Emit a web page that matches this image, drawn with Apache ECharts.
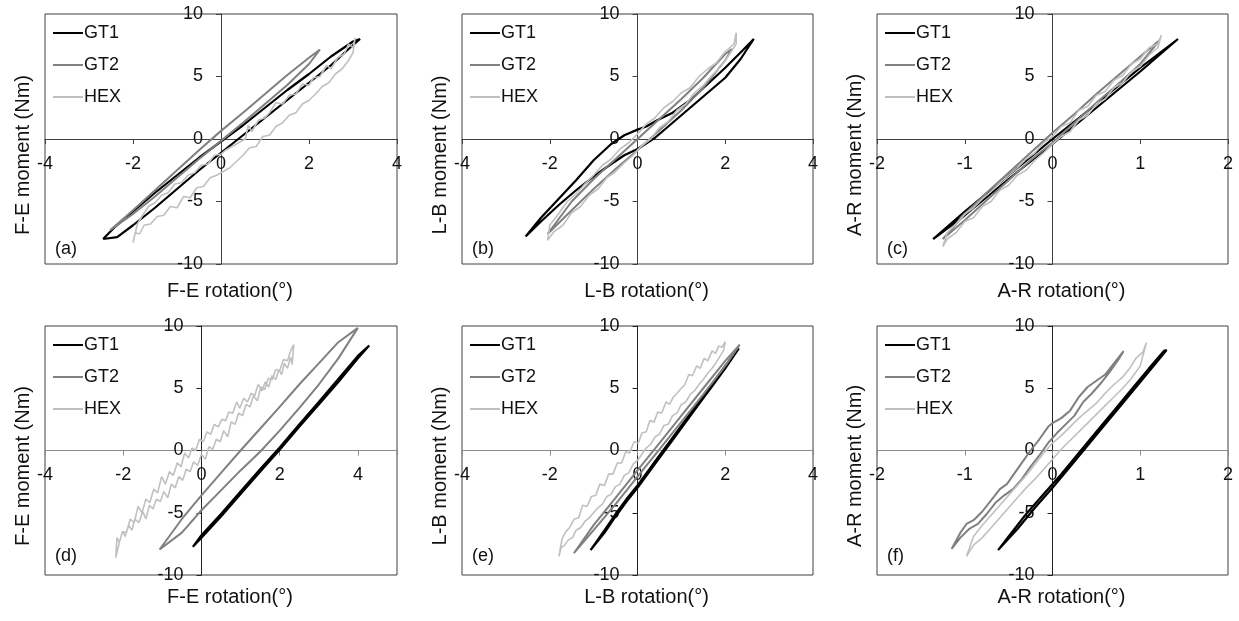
<!DOCTYPE html>
<html><head><meta charset="utf-8">
<script src="https://cdn.jsdelivr.net/npm/echarts@6/dist/echarts.min.js"></script>
<style>html,body{margin:0;padding:0;background:#fff}#c{width:1239px;height:621px}</style>
</head><body><div id="c"></div>
<script>
// ---------- DATA ----------
const seriesNames = ['GT1', 'GT2', 'HEX'];
const panelLabels = ['(a)', '(b)', '(c)', '(d)', '(e)', '(f)'];
const xTitles = ['F-E rotation(°)', 'L-B rotation(°)', 'A-R rotation(°)', 'F-E rotation(°)', 'L-B rotation(°)', 'A-R rotation(°)'];
const yTitles = ['F-E moment (Nm)', 'L-B moment (Nm)', 'A-R moment (Nm)', 'F-E moment (Nm)', 'L-B moment (Nm)', 'A-R moment (Nm)'];
const xTicksWide = [-4, -2, 0, 2, 4];
const xTicksNarrow = [-2, -1, 0, 1, 2];
const yTicks = [-10, -5, 0, 5, 10];

// (a) F-E, top row
const a_GT1 = [[-2.68,-8.0],[-2.36,-7.85],[-2.0,-6.9],[-1.5,-5.5],[-1.0,-4.0],[-0.5,-2.5],[0,-1.1],[0.5,0.3],[1.0,1.7],[1.5,3.1],[2.0,4.5],[2.5,5.9],[2.9,7.2],[3.16,8.0],
  [3.0,7.8],[2.5,6.6],[2.0,5.2],[1.5,3.9],[1.0,2.5],[0.5,1.1],[0,-0.2],[-0.5,-1.5],[-1.0,-2.9],[-1.5,-4.3],[-2.0,-5.8],[-2.4,-7.0],[-2.68,-8.0]];
const a_GT2 = [[2.25,7.16],[2.0,6.5],[1.5,5.1],[1.0,3.6],[0.5,2.1],[0,0.65],[-0.5,-0.9],[-1.0,-2.5],[-1.5,-4.1],[-2.0,-5.7],[-2.52,-7.3],
  [-2.0,-6.0],[-1.5,-4.6],[-1.0,-3.1],[-0.5,-1.6],[0,-0.15],[0.5,1.3],[1.0,2.8],[1.5,4.3],[2.0,6.0],[2.25,7.16]];
const a_HEX = [[3.05,8.1],[3.0,7.3],[2.9,7.6],[2.8,6.8],[2.65,6.5],[2.5,5.6],[2.4,5.9],[2.25,5.0],[2.1,4.9],[2.0,4.3],[1.85,4.4],[1.7,3.6],[1.55,3.5],[1.4,2.8],[1.25,2.9],[1.1,2.1],[1.0,1.7],[0.85,1.5],[0.7,0.6],[0.62,1.1],[0.55,0.0],[0.4,-0.3],[0.25,-0.6],[0.1,-0.9],[0,-1.2],[-0.15,-1.3],[-0.3,-2.0],[-0.45,-2.1],[-0.6,-2.7],[-0.75,-2.9],[-0.9,-3.5],[-1.05,-3.6],[-1.2,-4.3],[-1.35,-4.5],[-1.5,-5.1],[-1.65,-5.4],[-1.8,-6.2],[-1.9,-6.8],[-2.0,-8.3],
  [-1.95,-7.5],[-1.85,-7.6],[-1.75,-6.9],[-1.6,-6.8],[-1.45,-6.2],[-1.3,-6.1],[-1.15,-5.4],[-1.0,-5.5],[-0.85,-4.6],[-0.7,-4.7],[-0.55,-3.9],[-0.4,-3.8],[-0.25,-3.1],[-0.1,-2.9],[0.05,-2.6],[0.2,-2.3],[0.35,-1.8],[0.5,-1.3],[0.65,-0.7],[0.8,-0.6],[0.95,0.2],[1.1,0.3],[1.25,1.0],[1.4,1.3],[1.55,1.9],[1.7,2.1],[1.85,2.8],[2.0,3.1],[2.15,3.6],[2.3,4.2],[2.45,4.5],[2.6,5.2],[2.75,5.6],[2.9,6.3],[3.0,6.9],[3.05,8.1]];

// (b) L-B, top row
const b_GT1 = [[-2.55,-7.8],[-2.2,-6.6],[-1.8,-5.3],[-1.4,-4.1],[-1.0,-3.0],[-0.6,-2.0],[-0.3,-1.3],[0,-0.8],[0.4,0.1],[0.8,1.3],[1.2,2.5],[1.6,3.7],[2.0,4.9],[2.35,6.4],[2.65,8.0],
  [2.4,7.1],[2.0,5.7],[1.6,4.4],[1.2,3.1],[0.8,2.1],[0.45,1.5],[0.2,1.0],[0,0.75],[-0.3,0.3],[-0.6,-0.4],[-1.0,-1.7],[-1.4,-3.3],[-1.8,-4.8],[-2.2,-6.3],[-2.55,-7.8]];
const b_GT2 = [[-2.05,-7.6],[-1.5,-5.7],[-1.0,-4.0],[-0.5,-2.4],[0,-0.9],[0.5,0.7],[1.0,2.3],[1.5,4.1],[2.0,6.3],[2.15,7.2],
  [2.0,6.8],[1.5,4.9],[1.0,3.2],[0.5,1.6],[0,0.0],[-0.5,-1.6],[-1.0,-3.2],[-1.5,-5.0],[-2.05,-7.6]];
const b_HEX = [[2.25,8.5],[2.2,7.6],[2.0,7.0],[1.8,6.1],[1.6,5.6],[1.4,5.0],[1.2,4.1],[1.0,3.7],[0.8,3.0],[0.6,2.5],[0.4,1.7],[0.2,1.2],[0,0.4],[-0.2,-0.3],[-0.4,-0.8],[-0.6,-1.6],[-0.8,-2.1],[-1.0,-2.9],[-1.2,-3.6],[-1.4,-4.4],[-1.6,-5.0],[-1.8,-6.0],[-2.0,-6.9],[-2.05,-8.1],
  [-1.9,-7.4],[-1.7,-6.9],[-1.5,-5.9],[-1.3,-5.4],[-1.1,-4.5],[-0.9,-4.0],[-0.7,-3.1],[-0.5,-2.6],[-0.3,-1.9],[-0.1,-1.3],[0.1,-0.5],[0.3,0.0],[0.5,0.9],[0.7,1.4],[0.9,2.3],[1.1,2.8],[1.3,3.7],[1.5,4.3],[1.7,5.1],[1.9,5.8],[2.1,6.8],[2.25,7.6],[2.25,8.5]];

// (c) A-R, top row
const c_GT1 = [[1.43,8.0],[1.0,5.7],[0.5,2.8],[0,0.0],[-0.5,-2.9],[-1.0,-5.8],[-1.36,-8.0],
  [-1.0,-6.1],[-0.5,-3.2],[0,-0.4],[0.5,2.5],[1.0,5.4],[1.43,8.0]];
const c_GT2 = [[1.22,7.9],[1.0,6.6],[0.75,5.1],[0.5,3.6],[0.25,2.0],[0,0.5],[-0.25,-1.1],[-0.5,-2.7],[-0.75,-4.3],[-1.0,-6.0],[-1.25,-8.0],
  [-1.0,-6.5],[-0.75,-4.9],[-0.5,-3.3],[-0.25,-1.7],[0,-0.3],[0.25,1.3],[0.5,2.9],[0.75,4.4],[1.0,6.0],[1.22,7.9]];
const c_HEX = [[1.24,8.3],[1.2,7.6],[1.1,7.3],[1.0,6.4],[0.9,6.0],[0.8,5.1],[0.7,4.7],[0.6,3.8],[0.5,3.5],[0.4,2.6],[0.3,2.3],[0.2,1.3],[0.1,1.0],[0,0.2],[-0.1,-0.3],[-0.2,-1.1],[-0.3,-1.6],[-0.4,-2.3],[-0.5,-2.9],[-0.6,-3.5],[-0.7,-4.2],[-0.8,-4.8],[-0.9,-5.5],[-1.0,-6.0],[-1.1,-6.8],[-1.2,-7.5],[-1.25,-8.6],
  [-1.2,-8.0],[-1.1,-7.5],[-1.0,-6.6],[-0.9,-6.3],[-0.8,-5.4],[-0.7,-5.0],[-0.6,-4.1],[-0.5,-3.7],[-0.4,-2.9],[-0.3,-2.5],[-0.2,-1.7],[-0.1,-1.1],[0,-0.4],[0.1,0.2],[0.2,0.6],[0.3,1.5],[0.4,1.9],[0.5,2.8],[0.6,3.2],[0.7,4.1],[0.8,4.5],[0.9,5.4],[1.0,5.8],[1.1,6.7],[1.2,7.3],[1.24,8.3]];

// (d) F-E, bottom row
const d_GT1 = [[-0.22,-7.74],[0.0,-7.0],[0.5,-5.3],[1.0,-3.5],[1.5,-1.7],[2.0,0.05],[2.5,1.9],[3.0,3.7],[3.5,5.5],[4.0,7.4],[4.29,8.43],
  [4.0,7.6],[3.5,5.75],[3.0,3.9],[2.5,2.1],[2.0,0.25],[1.5,-1.5],[1.0,-3.3],[0.5,-5.1],[0,-6.8],[-0.22,-7.74]];
const d_GT2 = [[4.0,9.85],[3.5,8.7],[3.0,7.0],[2.5,5.3],[2.0,3.5],[1.5,1.75],[1.0,0.0],[0.5,-1.8],[0,-3.6],[-0.5,-5.5],[-1.07,-7.95],
  [-0.5,-6.6],[0,-4.8],[0.5,-3.2],[1.0,-1.6],[1.5,-0.1],[2.0,1.6],[2.5,3.4],[3.0,5.3],[3.5,7.4],[4.0,9.85]];
const d_HEX = [[2.36,8.5],[2.32,6.9],[2.28,7.5],[2.2,6.6],[2.12,7.0],[2.05,6.1],[1.98,6.5],[1.9,5.7],[1.8,6.0],[1.72,5.1],[1.63,5.5],[1.55,4.8],[1.45,5.3],[1.36,4.4],[1.27,4.6],[1.18,3.9],[1.08,4.2],[0.98,3.4],[0.9,3.9],[0.8,3.0],[0.7,3.1],[0.62,2.4],[0.52,2.5],[0.43,1.9],[0.33,2.1],[0.24,1.3],[0.14,1.5],[0.05,0.7],[-0.05,0.9],[-0.15,0.0],[-0.24,0.2],[-0.33,-0.6],[-0.43,-0.2],[-0.52,-1.3],[-0.62,-1.0],[-0.72,-2.0],[-0.82,-1.7],[-0.92,-2.7],[-1.02,-2.1],[-1.12,-3.4],[-1.22,-3.1],[-1.32,-4.2],[-1.42,-3.9],[-1.52,-5.0],[-1.62,-4.5],[-1.72,-5.8],[-1.82,-5.5],[-1.92,-6.6],[-2.02,-6.5],[-2.1,-7.4],[-2.19,-8.6],
  [-2.16,-7.0],[-2.1,-7.4],[-2.02,-6.5],[-1.95,-6.9],[-1.86,-6.0],[-1.78,-6.4],[-1.7,-5.5],[-1.6,-5.8],[-1.5,-4.9],[-1.42,-5.5],[-1.33,-4.4],[-1.24,-4.7],[-1.15,-3.9],[-1.05,-4.1],[-0.96,-3.3],[-0.86,-3.8],[-0.77,-2.7],[-0.67,-3.0],[-0.58,-2.1],[-0.48,-2.4],[-0.39,-1.5],[-0.29,-1.7],[-0.2,-0.9],[-0.1,-1.2],[0,-0.3],[0.1,-0.7],[0.19,0.3],[0.29,0.1],[0.38,0.9],[0.48,0.7],[0.57,1.6],[0.67,1.1],[0.76,2.3],[0.86,2.1],[0.95,3.0],[1.05,2.8],[1.14,3.7],[1.24,3.5],[1.33,4.4],[1.43,4.0],[1.52,5.1],[1.62,4.9],[1.71,5.8],[1.81,5.7],[1.9,6.5],[2.0,6.4],[2.1,7.3],[2.2,7.2],[2.28,8.0],[2.36,8.5]];

// (e) L-B, bottom row
const e_GT1 = [[-1.07,-8.0],[-0.75,-6.6],[-0.5,-5.3],[-0.25,-4.1],[0,-3.0],[0.25,-1.8],[0.5,-0.6],[0.75,0.6],[1.0,1.8],[1.25,3.0],[1.5,4.2],[1.75,5.4],[2.0,6.6],[2.31,8.2],
  [2.0,6.8],[1.75,5.6],[1.5,4.4],[1.25,3.2],[1.0,2.0],[0.75,0.8],[0.5,-0.4],[0.25,-1.6],[0,-2.8],[-0.25,-3.9],[-0.5,-5.1],[-0.75,-6.4],[-1.07,-8.0]];
const e_GT2 = [[-1.45,-8.25],[-1.0,-6.4],[-0.5,-4.3],[0,-2.1],[0.5,0.1],[1.0,2.3],[1.5,4.5],[2.0,6.8],[2.33,8.5],
  [2.0,7.2],[1.5,5.0],[1.0,2.8],[0.5,0.6],[0,-1.6],[-0.5,-3.8],[-1.0,-6.0],[-1.45,-8.25]];
const e_HEX = [[2.0,8.75],[1.93,8.3],[1.85,8.4],[1.78,7.8],[1.7,8.0],[1.6,7.2],[1.52,7.4],[1.43,6.6],[1.35,6.8],[1.25,6.0],[1.17,6.1],[1.08,5.3],[1.0,5.0],[0.9,4.6],[0.82,4.3],[0.73,3.7],[0.65,3.9],[0.55,3.0],[0.46,3.1],[0.38,2.3],[0.28,2.4],[0.2,1.5],[0.1,1.4],[0.02,0.6],[-0.08,0.7],[-0.18,-0.2],[-0.27,-0.1],[-0.36,-1.0],[-0.46,-1.0],[-0.56,-1.9],[-0.66,-1.9],[-0.75,-2.8],[-0.86,-2.7],[-0.95,-3.6],[-1.05,-3.7],[-1.15,-4.5],[-1.25,-4.4],[-1.34,-5.4],[-1.44,-5.5],[-1.55,-6.2],[-1.63,-6.5],[-1.72,-7.1],[-1.79,-8.5],
  [-1.74,-7.8],[-1.66,-7.6],[-1.58,-7.2],[-1.48,-7.0],[-1.4,-6.4],[-1.3,-6.2],[-1.2,-5.7],[-1.1,-5.4],[-1.0,-5.0],[-0.9,-4.6],[-0.8,-4.3],[-0.7,-3.7],[-0.6,-3.5],[-0.5,-2.9],[-0.4,-2.7],[-0.3,-2.0],[-0.2,-1.8],[-0.1,-1.1],[0.0,-0.8],[0.1,-0.3],[0.2,0.2],[0.3,0.5],[0.4,1.1],[0.5,1.3],[0.6,2.0],[0.7,2.1],[0.8,2.8],[0.9,3.0],[1.0,3.7],[1.1,3.9],[1.2,4.5],[1.3,4.8],[1.4,5.3],[1.5,5.7],[1.6,6.2],[1.7,6.6],[1.8,7.1],[1.9,7.7],[1.96,8.0],[2.0,8.75]];

// (f) A-R, bottom row
const f_GT1 = [[-0.62,-8.0],[-0.4,-6.3],[-0.2,-4.6],[0,-3.0],[0.2,-1.3],[0.4,0.4],[0.6,2.1],[0.8,3.8],[1.0,5.5],[1.2,7.2],[1.3,8.06],
  [1.27,8.0],[1.1,6.6],[0.9,4.9],[0.7,3.2],[0.5,1.5],[0.3,-0.2],[0.1,-1.9],[-0.1,-3.5],[-0.3,-5.1],[-0.5,-6.9],[-0.62,-8.0]];
const f_GT2 = [[0.81,7.98],[0.7,7.0],[0.6,6.1],[0.5,5.6],[0.4,5.1],[0.3,4.3],[0.2,3.2],[0.1,2.6],[0.0,2.2],[-0.05,1.9],[-0.15,0.9],[-0.25,0.0],[-0.35,-1.0],[-0.45,-2.0],[-0.52,-2.7],[-0.6,-3.1],[-0.7,-4.0],[-0.8,-4.9],[-0.9,-5.6],[-0.98,-5.9],[-1.05,-6.6],[-1.15,-7.9],
  [-1.05,-7.0],[-0.95,-6.3],[-0.85,-5.9],[-0.75,-5.1],[-0.65,-4.2],[-0.55,-3.6],[-0.45,-3.1],[-0.35,-2.3],[-0.25,-1.3],[-0.15,-0.4],[-0.05,0.6],[0.05,1.4],[0.15,2.1],[0.25,2.8],[0.35,3.9],[0.45,4.6],[0.55,5.4],[0.65,6.3],[0.75,7.3],[0.81,7.98]];
const f_HEX = [[1.07,8.65],[1.03,7.9],[0.95,7.4],[0.88,6.6],[0.8,5.9],[0.7,5.3],[0.6,4.6],[0.5,3.8],[0.4,3.2],[0.3,2.6],[0.2,1.9],[0.1,1.2],[0.0,0.6],[-0.1,-0.2],[-0.2,-1.1],[-0.3,-2.0],[-0.4,-2.8],[-0.5,-3.6],[-0.6,-4.4],[-0.7,-5.2],[-0.8,-6.0],[-0.9,-6.9],[-0.98,-8.5],
  [-0.9,-7.6],[-0.8,-7.0],[-0.7,-6.2],[-0.6,-5.4],[-0.5,-4.6],[-0.4,-3.8],[-0.3,-3.0],[-0.2,-2.3],[-0.1,-1.5],[0.0,-0.7],[0.1,0.1],[0.2,0.8],[0.3,1.5],[0.4,2.2],[0.5,2.9],[0.6,3.6],[0.7,4.3],[0.8,5.0],[0.9,5.8],[1.0,6.8],[1.07,8.65]];

const panelData = [
  [a_GT1, a_GT2, a_HEX],
  [b_GT1, b_GT2, b_HEX],
  [c_GT1, c_GT2, c_HEX],
  [d_GT1, d_GT2, d_HEX],
  [e_GT1, e_GT2, e_HEX],
  [f_GT1, f_GT2, f_HEX]
];

// ---------- LAYOUT / STYLE ----------
const FONT = 'Liberation Sans, Arial, Helvetica, sans-serif';
const TXT = '#111';
const lefts = [45, 462, 877];
const widths = [352, 351, 351];
const tops = [14, 326];
const heights = [250, 249];
const xExt = [
  {min: -4, max: 4, interval: 2, ticks: xTicksWide},
  {min: -4, max: 4, interval: 2, ticks: xTicksWide},
  {min: -2, max: 2, interval: 1, ticks: xTicksNarrow},
  {min: -4, max: 5, interval: 2, ticks: xTicksWide},
  {min: -4, max: 4, interval: 2, ticks: xTicksWide},
  {min: -2, max: 2, interval: 1, ticks: xTicksNarrow}
];
const colors = ['#000000', '#808080', '#c0c0c0'];
const widthsLine = [2.2, 2, 1.6];

const grid = [], xAxis = [], yAxis = [], series = [], legend = [], graphic = [];
for (let i = 0; i < 6; i++) {
  const col = i % 3, row = Math.floor(i / 3);
  const L = lefts[col], T = tops[row], W = widths[col], H = heights[row];
  grid.push({left: L, top: T, width: W, height: H, show: true, borderColor: '#404040', borderWidth: 1, backgroundColor: 'transparent'});
  const ex = xExt[i];
  const hColor = row === 0 ? '#404040' : '#8a8a8a';
  const vColor = row === 0 ? '#404040' : '#222222';
  // place each axis where the other axis is zero
  const xOff = -H / 2;
  const yOff = -W * (0 - ex.min) / (ex.max - ex.min);
  xAxis.push({
    type: 'value', gridIndex: i, min: ex.min, max: ex.max, interval: ex.interval,
    position: 'bottom', offset: xOff,
    axisLine: {show: true, onZero: false, lineStyle: {color: hColor, width: 1}},
    axisTick: {show: true, length: 5, lineStyle: {color: hColor}},
    splitLine: {show: false},
    axisLabel: {show: true, margin: 16, fontSize: 18, fontFamily: FONT, color: TXT,
      formatter: v => (ex.ticks.indexOf(v) >= 0 ? String(v) : '')}
  });
  yAxis.push({
    type: 'value', gridIndex: i, min: -10, max: 10, interval: 5,
    position: 'left', offset: yOff,
    axisLine: {show: true, onZero: false, lineStyle: {color: vColor, width: 1}},
    axisTick: {show: true, length: 5, lineStyle: {color: vColor}},
    splitLine: {show: false},
    axisLabel: {show: true, margin: 18, fontSize: 18, fontFamily: FONT, color: TXT,
      formatter: v => (yTicks.indexOf(v) >= 0 ? String(v) : '')}
  });
  for (let s = 0; s < 3; s++) {
    series.push({
      type: 'line', name: seriesNames[s], xAxisIndex: i, yAxisIndex: i,
      data: panelData[i][s], symbol: 'none', smooth: false,
      lineStyle: {color: colors[s], width: widthsLine[s]}, itemStyle: {color: colors[s]},
      z: 3 + s
    });
  }
  const legTop = row === 0 ? 24 : 336;
  legend.push({
    orient: 'vertical', left: L + 8, top: legTop, padding: 0, itemWidth: 30, itemHeight: 2, itemGap: 14,
    icon: 'rect', data: seriesNames, selectedMode: false,
    textStyle: {fontSize: 18, fontFamily: FONT, color: TXT, lineHeight: 18, padding: [0, 0, 0, -4]}
  });
  graphic.push({type: 'text', x: L + 10, y: row === 0 ? 249 : 556,
    style: {text: panelLabels[i], font: '18px ' + FONT, fill: TXT, textAlign: 'left', textVerticalAlign: 'middle'}});
  graphic.push({type: 'text', x: L + W / 2 + 9, y: row === 0 ? 291 : 597,
    style: {text: xTitles[i], font: '20px ' + FONT, fill: TXT, textAlign: 'center', textVerticalAlign: 'middle'}});
  graphic.push({type: 'text', x: [23, 440, 855][col], y: row === 0 ? 155 : 466, rotation: Math.PI / 2,
    style: {text: yTitles[i], font: '20px ' + FONT, fill: TXT, textAlign: 'center', textVerticalAlign: 'middle'}});
}

const chart = echarts.init(document.getElementById('c'), null, {renderer: 'canvas'});
chart.setOption({animation: false, backgroundColor: '#ffffff', grid, xAxis, yAxis, series, legend, graphic});
</script>
</body></html>
